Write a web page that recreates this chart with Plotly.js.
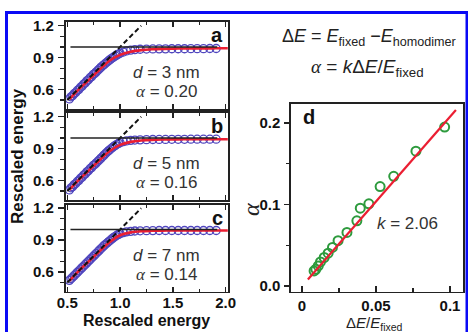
<!DOCTYPE html>
<html><head><meta charset="utf-8">
<script src="https://cdn.plot.ly/plotly-3.0.1.min.js"></script>
<style>html,body{margin:0;padding:0;background:#fff}#chart{width:468px;height:332px}</style>
</head><body><div id="chart"></div>
<script>
// ---- data: panels a-c (rescaled energy) ----
const circX = [0.52,0.535,0.55,0.565,0.58,0.595,0.61,0.625,0.64,0.655,0.67,0.685,0.70,0.715,0.73,0.745,0.76,0.775,0.79,0.805,0.82,0.835,0.85,0.865,0.88,0.895,0.91,0.925,0.94,0.955,0.97,0.985,1.00,1.03,1.06,1.10,1.14,1.19,1.25,1.31,1.37,1.43,1.49,1.55,1.61,1.67,1.73,1.79,1.85,1.91];
const circYa = [0.51,0.53,0.54,0.56,0.57,0.59,0.60,0.62,0.63,0.65,0.66,0.68,0.69,0.71,0.72,0.74,0.75,0.765,0.78,0.795,0.81,0.823,0.835,0.848,0.86,0.873,0.885,0.895,0.905,0.915,0.925,0.933,0.94,0.952,0.962,0.97,0.975,0.978,0.98,0.981,0.982,0.982,0.983,0.983,0.983,0.984,0.984,0.984,0.985,0.985];
const circYb = [0.51,0.53,0.54,0.56,0.57,0.59,0.60,0.62,0.63,0.65,0.66,0.68,0.69,0.71,0.72,0.74,0.75,0.765,0.78,0.795,0.81,0.825,0.84,0.855,0.87,0.883,0.895,0.908,0.92,0.93,0.94,0.948,0.955,0.965,0.972,0.977,0.98,0.982,0.984,0.985,0.986,0.986,0.987,0.987,0.987,0.988,0.988,0.988,0.988,0.988];
const circYc = [0.52,0.535,0.55,0.565,0.58,0.595,0.61,0.625,0.64,0.655,0.67,0.685,0.70,0.715,0.73,0.745,0.76,0.775,0.79,0.805,0.82,0.835,0.85,0.862,0.875,0.888,0.90,0.913,0.925,0.935,0.945,0.953,0.96,0.97,0.977,0.982,0.985,0.987,0.988,0.989,0.99,0.99,0.99,0.99,0.99,0.99,0.99,0.99,0.99,0.99];
const fitX  = [0.52,0.60,0.70,0.80,0.90,1.00,1.10,1.20,1.30,1.40,1.50,1.60,1.70,1.80,1.90,2.02];
const fitYa = [0.505,0.59,0.685,0.78,0.87,0.925,0.955,0.97,0.978,0.982,0.984,0.985,0.986,0.986,0.987,0.987];
const fitYb = [0.51,0.595,0.69,0.785,0.875,0.935,0.963,0.976,0.982,0.985,0.986,0.987,0.988,0.988,0.988,0.988];
const fitYc = [0.515,0.60,0.695,0.79,0.88,0.945,0.972,0.983,0.987,0.989,0.99,0.99,0.99,0.99,0.99,0.99];
const diagX = [0.50, 1.20];
const diagY = [0.50, 1.20];
const plateauX = [0.53, 1.92];
const plateauY = [1.0, 1.0];
const panelLetters = ['a','b','c'];
const sizes = ['3','5','7'];
const alphas = ['0.20','0.16','0.14'];
// ---- data: panel d ----
const ratioX = [0.0964,0.0770,0.0620,0.0528,0.0452,0.0394,0.0371,0.0304,0.0244,0.0206,0.0177,0.0150,0.0125,0.0110,0.0094,0.0082];
const alphaY = [0.195,0.1654,0.1346,0.122,0.1008,0.0955,0.080,0.0658,0.0556,0.0473,0.0403,0.035,0.0296,0.0247,0.0206,0.0185];
const kLineX = [0.004, 0.104];
const kLineY = [0.008, 0.216];
const kText = '2.06';

const W = 468, H = 332;
const px = x => x / W;
const py = y => 1 - y / H;
const FONT = 'Liberation Sans, Arial, sans-serif';
const SERIF = "Liberation Serif";
const AX = '#222';
const CIRC = 'rgb(80,70,190)';
const RED = 'rgb(235,30,50)';
const GREEN = 'rgb(46,155,62)';

const panelTops = [22, 113, 204.5];
const panelH = 87;
const circYs = [circYa, circYb, circYc];
const fitYs = [fitYa, fitYb, fitYc];

const traces = [];
const layout = {
  width: W, height: H,
  margin: {l:0, r:0, t:0, b:0},
  paper_bgcolor: '#fff', plot_bgcolor: '#fff',
  showlegend: false,
  font: {family: FONT, color: '#111'},
  annotations: [],
  shapes: [{type:'rect', xref:'paper', yref:'paper', x0: px(6.5), x1: px(467), y0: -0.2, y1: py(12.5),
            line:{color:'#0a0af5', width:3}, fillcolor:'rgba(0,0,0,0)', layer:'above'}]
};

for (let i = 0; i < 3; i++) {
  const xa = i === 0 ? 'x' : 'x' + (i + 1);
  const ya = i === 0 ? 'y' : 'y' + (i + 1);
  traces.push({x: circX, y: circYs[i], xaxis: xa, yaxis: ya, type:'scatter', mode:'markers',
    marker:{symbol:'circle-open', size:8, color: CIRC, line:{width:1.3, color: CIRC}}});
  traces.push({x: fitX, y: fitYs[i], xaxis: xa, yaxis: ya, type:'scatter', mode:'lines',
    line:{color: RED, width:2.6, shape:'spline', smoothing:0.9}});
  traces.push({x: diagX, y: diagY, xaxis: xa, yaxis: ya, type:'scatter', mode:'lines',
    line:{color:'#111', width:2, dash:'5px,3px'}});
  traces.push({x: plateauX, y: plateauY, xaxis: xa, yaxis: ya, type:'scatter', mode:'lines',
    line:{color:'#222', width:1.6}});

  const top = panelTops[i];
  const xkey = i === 0 ? 'xaxis' : 'xaxis' + (i + 1);
  const ykey = i === 0 ? 'yaxis' : 'yaxis' + (i + 1);
  layout[xkey] = {
    domain: [px(65.5), px(228)], range: [0.483, 2.022], anchor: ya,
    showgrid:false, zeroline:false, showline:true, linecolor: AX, linewidth:1.6, mirror:'ticks',
    ticks:'inside', ticklen:5, tickwidth:1.5, tickcolor: AX, tick0:0.5, dtick:0.5, tickformat:'.1f',
    minor:{ticks:'inside', ticklen:3, tickwidth:1.3, tickcolor: AX, tick0:0.5, dtick:0.25},
    showticklabels: i === 2, ticklabelstandoff: -3,
    tickfont:{family: FONT, size:15, color:'#111', weight:'bold'}
  };
  layout[ykey] = {
    domain: [py(top + panelH), py(top)], range: [0.415, 1.235], anchor: xa,
    showgrid:false, zeroline:false, showline:true, linecolor: AX, linewidth:1.6, mirror:true,
    ticks:'outside', ticklen:6, tickwidth:1.5, tickcolor: AX, tick0:0.6, dtick:0.3, tickformat:'.1f',
    minor:{ticks:'outside', ticklen:4, tickwidth:1.3, tickcolor: AX, tick0:0.6, dtick:0.1},
    ticklabelstandoff: 1,
    tickfont:{family: FONT, size:15, color:'#111', weight:'bold'}
  };
  layout.annotations.push({xref:'paper', yref:'paper', x: px(217), y: py(top + 13), text: '<b>' + panelLetters[i] + '</b>',
    showarrow:false, xanchor:'center', yanchor:'middle', font:{family: FONT, size:20, color:'#111'}});
  layout.annotations.push({xref:'paper', yref:'paper', x: px(166), y: py(top + 51), text: '<i>d</i> = ' + sizes[i] + ' nm',
    showarrow:false, xanchor:'center', yanchor:'middle', font:{family: FONT, size:17, color:'#333'}});
  layout.annotations.push({xref:'paper', yref:'paper', x: px(166), y: py(top + 69.5),
    text: '<span style="font-family:' + SERIF + '"><i>α</i></span> = ' + alphas[i],
    showarrow:false, xanchor:'center', yanchor:'middle', font:{family: FONT, size:17, color:'#333'}});
}

// panel d
traces.push({x: ratioX, y: alphaY, xaxis:'x4', yaxis:'y4', type:'scatter', mode:'markers',
  marker:{symbol:'circle-open', size:9, color: GREEN, line:{width:2, color: GREEN}}});
traces.push({x: kLineX, y: kLineY, xaxis:'x4', yaxis:'y4', type:'scatter', mode:'lines',
  line:{color: RED, width:2.2}});
layout.xaxis4 = {
  domain:[px(291), px(463)], range:[-0.0074, 0.1088], anchor:'y4',
  showgrid:false, zeroline:false, showline:true, linecolor: AX, linewidth:1.6, mirror:true,
  ticks:'inside', ticklen:6, tickwidth:1.5, tickcolor: AX, tick0:0, dtick:0.05,
  minor:{ticks:'inside', ticklen:4, tickwidth:1.3, tickcolor: AX, tick0:0, dtick:0.025},
  tickfont:{family: FONT, size:15, color:'#111', weight:'bold'}
};
layout.yaxis4 = {
  domain:[py(291.5), py(104)], range:[-0.0067, 0.2233], anchor:'x4',
  showgrid:false, zeroline:false, showline:true, linecolor: AX, linewidth:1.6, mirror:true,
  ticks:'outside', ticklen:5, tickwidth:1.5, tickcolor: AX, tick0:0, dtick:0.1, tickformat:'.1f',
  minor:{ticks:'outside', ticklen:3, tickwidth:1.3, tickcolor: AX, tick0:0, dtick:0.05},
  ticklabelstandoff: 1,
  tickfont:{family: FONT, size:15, color:'#111', weight:'bold'}
};

const ann = layout.annotations;
ann.push({xref:'paper', yref:'paper', x: px(309), y: py(117), text:'<b>d</b>', showarrow:false,
  xanchor:'center', yanchor:'middle', font:{family: FONT, size:20, color:'#111'}});
ann.push({xref:'paper', yref:'paper', x: px(407), y: py(224), text:'<i>k</i> = ' + kText, showarrow:false,
  xanchor:'center', yanchor:'middle', font:{family: FONT, size:17, color:'#333'}});
ann.push({xref:'paper', yref:'paper', x: px(369), y: py(37),
  text:'Δ<i>E</i> = <i>E</i><sub>fixed</sub> −<i>E</i><sub>homodimer</sub>', showarrow:false,
  xanchor:'center', yanchor:'middle', font:{family: FONT, size:18, color:'#222'}});
ann.push({xref:'paper', yref:'paper', x: px(367), y: py(68),
  text:'<span style="font-family:' + SERIF + '"><i>α</i></span> = <i>k</i>Δ<i>E</i>/<i>E</i><sub>fixed</sub>', showarrow:false,
  xanchor:'center', yanchor:'middle', font:{family: FONT, size:19, color:'#222'}});
ann.push({xref:'paper', yref:'paper', x: px(146), y: py(320), text:'<b>Rescaled energy</b>', showarrow:false,
  xanchor:'center', yanchor:'middle', font:{family: FONT, size:16, color:'#111'}});
ann.push({xref:'paper', yref:'paper', x: px(17), y: py(156), text:'<b>Rescaled energy</b>', showarrow:false,
  textangle:-90, xanchor:'center', yanchor:'middle', font:{family: FONT, size:17, color:'#111'}});
ann.push({xref:'paper', yref:'paper', x: px(374), y: py(323),
  text:'Δ<i>E</i>/<i>E</i><sub>fixed</sub>', showarrow:false,
  xanchor:'center', yanchor:'middle', font:{family: FONT, size:15, color:'#222'}});
ann.push({xref:'paper', yref:'paper', x: px(251), y: py(210),
  text:'<span style="font-family:' + SERIF + '"><i>α</i></span>', showarrow:false, textangle:-90,
  xanchor:'center', yanchor:'middle', font:{family: FONT, size:24, color:'#222'}});

Plotly.newPlot('chart', traces, layout, {staticPlot:true, displayModeBar:false});
</script>
</body></html>
